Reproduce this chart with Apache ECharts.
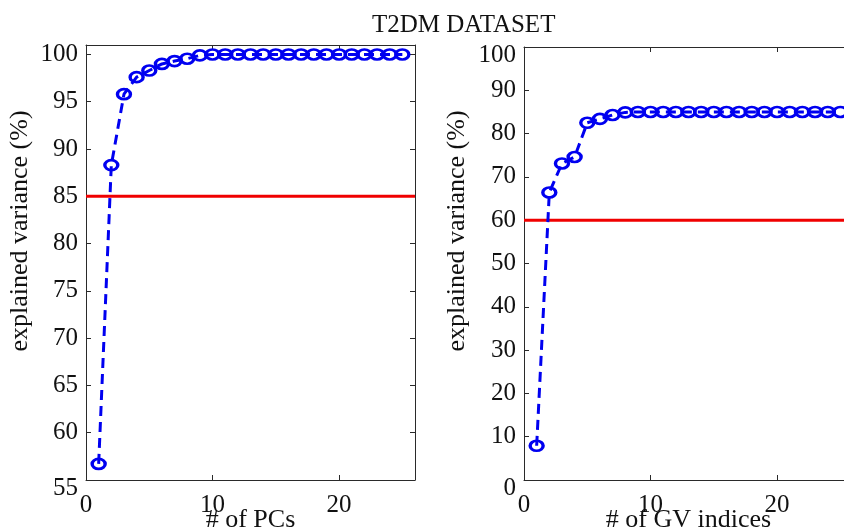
<!DOCTYPE html>
<html>
<head>
<meta charset="utf-8">
<script src="https://cdn.jsdelivr.net/npm/echarts@6/dist/echarts.min.js"></script>
<style>
  html, body { margin: 0; padding: 0; background: #fff; }
  #chart { width: 844px; height: 532px; }
</style>
</head>
<body>
<div id="chart"></div>
<script>
// Cumulative explained variance, T2DM dataset
const pcIndex = [1, 2, 3, 4, 5, 6, 7, 8, 9, 10, 11, 12, 13, 14, 15, 16, 17, 18, 19, 20, 21, 22, 23, 24, 25];
const pcVariance = [56.7, 88.3, 95.8, 97.6, 98.3, 99.0, 99.3, 99.55, 99.9, 100, 100, 100, 100, 100, 100, 100, 100, 100, 100, 100, 100, 100, 100, 100, 100];
const pcThreshold = 85;

const gvIndex = [1, 2, 3, 4, 5, 6, 7, 8, 9, 10, 11, 12, 13, 14, 15, 16, 17, 18, 19, 20, 21, 22, 23, 24, 25];
const gvVariance = [7.9, 66.4, 73.1, 74.6, 82.5, 83.4, 84.3, 84.9, 85, 85, 85, 85, 85, 85, 85, 85, 85, 85, 85, 85, 85, 85, 85, 85, 85];
const gvThreshold = 60;

const xRange = [0, 26];
const pcYRange = [55, 101];
const gvYRange = [0, 100];

const titleText = 'T2DM DATASET';
const yName = 'explained variance (%)';
const pcXName = '# of PCs';
const gvXName = '# of GV indices';

const FONT = '"Liberation Serif", "Times New Roman", serif';
const FS = 25;
const NAME_FS = 26;
const INK = '#111';
const FRAME = '#2a2a2a';
const BLUE = '#0000f0';
const RED = '#f00000';

function zip(xs, ys) { return xs.map((x, i) => [x, ys[i]]); }

// Ellipse marker outline
const ringSymbol = 'path://M0,5A5,5 0 1,0 10,5A5,5 0 1,0 0,5Z';

function xAxes(gridIndex, name) {
  const base = {
    type: 'value', gridIndex: gridIndex, min: xRange[0], max: xRange[1], interval: 10,
    axisLine: { show: true, onZero: false, lineStyle: { color: FRAME, width: 1 } },
    axisTick: { show: true, inside: true, length: 5, lineStyle: { color: FRAME } },
    splitLine: { show: false }
  };
  return [
    Object.assign({}, base, {
      position: 'bottom',
      name: name, nameLocation: 'middle', nameGap: 27, nameMoveOverlap: false,
      nameTextStyle: { fontFamily: FONT, fontSize: NAME_FS, color: INK },
      axisLabel: { show: true, margin: 13, fontFamily: FONT, fontSize: FS, color: INK, showMaxLabel: false }
    }),
    Object.assign({}, base, { position: 'top', axisLabel: { show: false } })
  ];
}

function yAxes(gridIndex, range, interval, shiftTop) {
  const base = {
    type: 'value', gridIndex: gridIndex, min: range[0], max: range[1], interval: interval,
    axisLine: { show: true, onZero: false, lineStyle: { color: FRAME, width: 1 } },
    axisTick: { show: true, inside: true, length: 5, lineStyle: { color: FRAME } },
    splitLine: { show: false }
  };
  return [
    Object.assign({}, base, {
      position: 'left',
      axisLabel: {
        show: true, margin: 8, fontFamily: FONT, fontSize: FS, color: INK,
        showMaxLabel: shiftTop ? true : false,
        formatter: function (v) {
          if (v === range[0]) return '{lo|' + v + '}';
          if (shiftTop && v === range[1]) return '{lo|' + v + '}';
          return String(v);
        },
        rich: {
          lo: { fontFamily: FONT, fontSize: FS, color: INK, padding: [16, 0, 0, 0] }
        }
      }
    }),
    Object.assign({}, base, { position: 'right', axisLabel: { show: false } })
  ];
}

function curve(xi, yi, data) {
  return {
    type: 'line', xAxisIndex: xi, yAxisIndex: yi, data: data,
    symbol: ringSymbol, symbolSize: [13, 10], showSymbol: true,
    lineStyle: { color: BLUE, width: 3, type: [10, 6] },
    itemStyle: { color: 'rgba(0,0,0,0)', borderColor: BLUE, borderWidth: 3 },
    emphasis: { disabled: true }, animation: false, z: 3
  };
}

function threshold(xi, yi, value) {
  return {
    type: 'line', xAxisIndex: xi, yAxisIndex: yi,
    data: [[xRange[0], value], [xRange[1], value]],
    symbol: 'none', lineStyle: { color: RED, width: 3 },
    emphasis: { disabled: true }, animation: false, z: 2
  };
}

const chart = echarts.init(document.getElementById('chart'), null, { renderer: 'canvas' });
chart.setOption({
  backgroundColor: '#fff',
  animation: false,
  title: {
    text: titleText, left: 367, top: 8,
    textStyle: { fontFamily: FONT, fontSize: FS, fontWeight: 'normal', color: INK }
  },
  grid: [
    { left: 86, top: 45, width: 329, height: 435, outerBoundsMode: 'none', containLabel: false },
    { left: 524, top: 47, width: 329, height: 433, outerBoundsMode: 'none', containLabel: false }
  ],
  xAxis: xAxes(0, pcXName).concat(xAxes(1, gvXName)),
  yAxis: yAxes(0, pcYRange, 5, false).concat(yAxes(1, gvYRange, 10, true)),
  graphic: [
    { type: 'text', x: 20, y: 231, rotation: Math.PI / 2,
      style: { text: yName, font: NAME_FS + 'px ' + FONT, fill: INK, align: 'center', verticalAlign: 'middle' } },
    { type: 'text', x: 457, y: 231, rotation: Math.PI / 2,
      style: { text: yName, font: NAME_FS + 'px ' + FONT, fill: INK, align: 'center', verticalAlign: 'middle' } }
  ],
  series: [
    threshold(0, 0, pcThreshold),
    curve(0, 0, zip(pcIndex, pcVariance)),
    threshold(2, 2, gvThreshold),
    curve(2, 2, zip(gvIndex, gvVariance))
  ]
});
</script>
</body>
</html>
